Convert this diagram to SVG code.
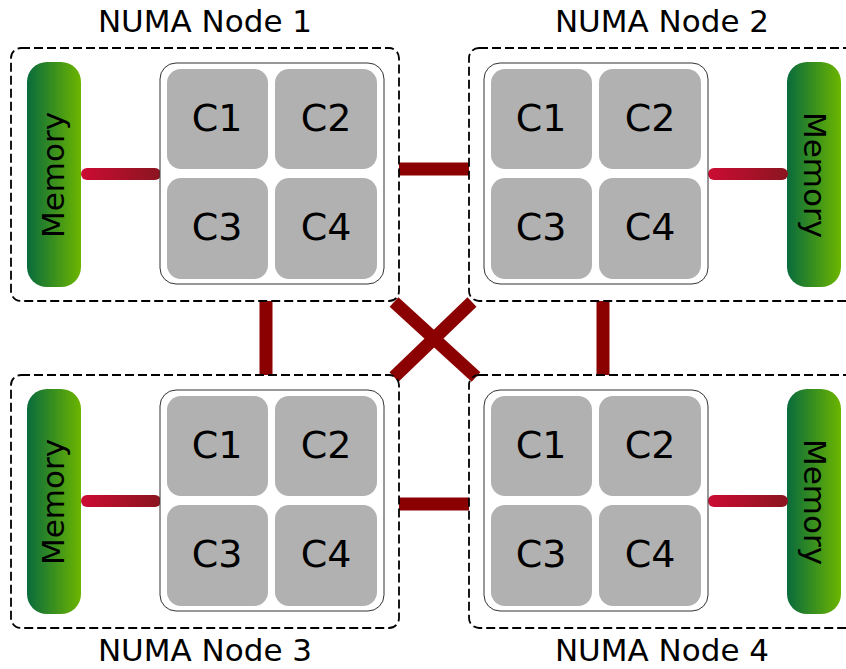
<svg xmlns="http://www.w3.org/2000/svg" width="846" height="669" viewBox="0 0 846 669">
<defs>
<linearGradient id="mem" x1="0" y1="0" x2="1" y2="0">
<stop offset="0" stop-color="#086b3c"/>
<stop offset="1" stop-color="#6cb500"/>
</linearGradient>
<linearGradient id="lnk" x1="0" y1="0" x2="1" y2="0">
<stop offset="0" stop-color="#cc0c33"/>
<stop offset="1" stop-color="#8a1520"/>
</linearGradient>
<style>
.frame{fill:none;stroke:#000;stroke-width:1.8;stroke-dasharray:9,4}
.cpu{fill:#fff;stroke:#333;stroke-width:1}
.core{fill:#b1b1b1}
.ct{font-family:"DejaVu Sans",sans-serif;font-size:38px;fill:#000;text-anchor:middle}
.mt{font-family:"DejaVu Sans",sans-serif;font-size:31px;fill:#000;text-anchor:middle}
.tt{font-family:"DejaVu Sans",sans-serif;font-size:31px;fill:#000;text-anchor:middle}
.bus{stroke:#8b0000;stroke-width:13;fill:none}
</style>
</defs>
<g id="connectors">
<line class="bus" x1="399" y1="169" x2="469" y2="169"/>
<line class="bus" x1="399" y1="504" x2="469" y2="504"/>
<line class="bus" x1="266" y1="301" x2="266" y2="375"/>
<line class="bus" x1="603" y1="301" x2="603" y2="375"/>
<line class="bus" x1="394" y1="302" x2="476" y2="377" stroke-width="15"/>
<line class="bus" x1="472" y1="302" x2="394" y2="377" stroke-width="15"/>
</g>
<g id="node1">
<rect class="frame" x="11" y="48" width="388" height="253" rx="10"/>
<text class="tt" x="205" y="32">NUMA Node 1</text>
<rect x="27" y="62" width="54" height="225" rx="20" fill="url(#mem)"/>
<text class="mt" transform="translate(64,175) rotate(-90)">Memory</text>
<rect x="81" y="168" width="80" height="12" rx="6" fill="url(#lnk)"/>
<rect class="cpu" x="160" y="63" width="224" height="221" rx="16"/>
<rect class="core" x="167" y="69" width="101" height="100" rx="14"/>
<rect class="core" x="275" y="69" width="102" height="100" rx="14"/>
<rect class="core" x="167" y="178" width="101" height="101" rx="14"/>
<rect class="core" x="275" y="178" width="102" height="101" rx="14"/>
<text class="ct" x="217" y="131">C1</text>
<text class="ct" x="326" y="131">C2</text>
<text class="ct" x="217" y="240">C3</text>
<text class="ct" x="326" y="240">C4</text>
</g>
<g id="node2">
<rect class="frame" x="469" y="48" width="390" height="253" rx="10"/>
<text class="tt" x="662" y="32">NUMA Node 2</text>
<rect x="787" y="62" width="54" height="225" rx="20" fill="url(#mem)"/>
<text class="mt" transform="translate(804,175) rotate(90)">Memory</text>
<rect x="708" y="168" width="80" height="12" rx="6" fill="url(#lnk)"/>
<rect class="cpu" x="484" y="63" width="224" height="221" rx="16"/>
<rect class="core" x="491" y="69" width="101" height="100" rx="14"/>
<rect class="core" x="599" y="69" width="102" height="100" rx="14"/>
<rect class="core" x="491" y="178" width="101" height="101" rx="14"/>
<rect class="core" x="599" y="178" width="102" height="101" rx="14"/>
<text class="ct" x="541" y="131">C1</text>
<text class="ct" x="650" y="131">C2</text>
<text class="ct" x="541" y="240">C3</text>
<text class="ct" x="650" y="240">C4</text>
</g>
<g id="node3">
<rect class="frame" x="11" y="375" width="388" height="253" rx="10"/>
<text class="tt" x="205" y="661">NUMA Node 3</text>
<rect x="27" y="389" width="54" height="225" rx="20" fill="url(#mem)"/>
<text class="mt" transform="translate(64,502) rotate(-90)">Memory</text>
<rect x="81" y="495" width="80" height="12" rx="6" fill="url(#lnk)"/>
<rect class="cpu" x="160" y="390" width="224" height="221" rx="16"/>
<rect class="core" x="167" y="396" width="101" height="100" rx="14"/>
<rect class="core" x="275" y="396" width="102" height="100" rx="14"/>
<rect class="core" x="167" y="505" width="101" height="101" rx="14"/>
<rect class="core" x="275" y="505" width="102" height="101" rx="14"/>
<text class="ct" x="217" y="458">C1</text>
<text class="ct" x="326" y="458">C2</text>
<text class="ct" x="217" y="567">C3</text>
<text class="ct" x="326" y="567">C4</text>
</g>
<g id="node4">
<rect class="frame" x="469" y="375" width="390" height="253" rx="10"/>
<text class="tt" x="662" y="661">NUMA Node 4</text>
<rect x="787" y="389" width="54" height="225" rx="20" fill="url(#mem)"/>
<text class="mt" transform="translate(804,502) rotate(90)">Memory</text>
<rect x="708" y="495" width="80" height="12" rx="6" fill="url(#lnk)"/>
<rect class="cpu" x="484" y="390" width="224" height="221" rx="16"/>
<rect class="core" x="491" y="396" width="101" height="100" rx="14"/>
<rect class="core" x="599" y="396" width="102" height="100" rx="14"/>
<rect class="core" x="491" y="505" width="101" height="101" rx="14"/>
<rect class="core" x="599" y="505" width="102" height="101" rx="14"/>
<text class="ct" x="541" y="458">C1</text>
<text class="ct" x="650" y="458">C2</text>
<text class="ct" x="541" y="567">C3</text>
<text class="ct" x="650" y="567">C4</text>
</g>
</svg>
